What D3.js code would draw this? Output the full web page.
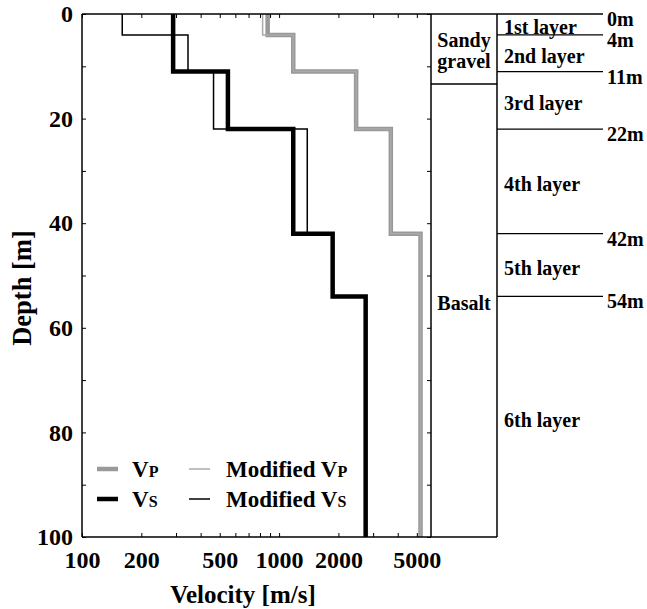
<!DOCTYPE html>
<html>
<head>
<meta charset="utf-8">
<script src="https://cdn.jsdelivr.net/npm/d3@7"></script>
<style>
  body { margin: 0; background: #fff; }
  svg text { font-family: "Liberation Serif", "Times New Roman", serif; font-weight: bold; fill: #000; }
</style>
</head>
<body>
<div id="chart"></div>
<script>
// depth boundaries of the layers [m]
const depths = [0, 4, 11, 22, 42, 54, 100];
const layerNames = ["1st layer", "2nd layer", "3rd layer", "4th layer", "5th layer", "6th layer"];
const depthMarks = [0, 4, 11, 22, 42, 54];

// velocities per layer [m/s]
const vp    = [875, 1180, 2460, 3690, 5220, 5220];
const vpMod = [825, 1180, 2460, 3690, 5220, 5220];
const vs    = [290, 290, 550, 1180, 1870, 2750];
const vsMod = [160, 345, 465, 1390, 1870, 2750];

const xLabels = [100, 200, 500, 1000, 2000, 5000];
const xMinor = [100, 200, 300, 400, 500, 600, 700, 800, 900, 1000, 2000, 3000, 4000, 5000];
const yTicks = [0, 10, 20, 30, 40, 50, 60, 70, 80, 90, 100];
const yLabels = [0, 20, 40, 60, 80, 100];

const sandyBottom = 13.4;

const width = 647, height = 609;
const plotLeft = 82, plotRight = 431, plotTop = 14, plotBottom = 537;
const panelRight = 497, lineEnd = 603;

const svg = d3.select("#chart").append("svg")
  .attr("width", width)
  .attr("height", height);

const x = d3.scaleLog().domain([100, 5900]).range([plotLeft, plotRight]);
const y = d3.scaleLinear().domain([0, 100]).range([plotTop, plotBottom]);

// step profile: each layer is a vertical segment
function steps(vals) {
  const pts = [];
  vals.forEach((v, i) => {
    pts.push([v, depths[i]]);
    pts.push([v, depths[i + 1]]);
  });
  return pts;
}

const line = d3.line()
  .x(d => x(d[0]))
  .y(d => y(d[1]));

function drawProfile(vals, color, w) {
  svg.append("path")
    .datum(steps(vals))
    .attr("d", line)
    .attr("fill", "none")
    .attr("stroke", color)
    .attr("stroke-width", w)
    .attr("stroke-linejoin", "miter");
}

drawProfile(vp, "#999", 4.5);
drawProfile(vs, "#000", 4.5);
drawProfile(vpMod, "#aaa", 1.5);
drawProfile(vsMod, "#000", 1.5);

// axes (ticks pointing inward)
const fmt = d => xLabels.includes(d) ? d : "";

svg.append("g")
  .attr("transform", `translate(0,${plotBottom})`)
  .call(d3.axisBottom(x).tickValues(xMinor).tickFormat(fmt).tickSize(-4).tickPadding(14))
  .call(g => g.select(".domain").remove())
  .call(g => g.selectAll("text").style("font-size", "24px"));

svg.append("g")
  .attr("transform", `translate(0,${plotTop})`)
  .call(d3.axisTop(x).tickValues(xMinor).tickFormat("").tickSize(-4))
  .call(g => g.select(".domain").remove());

svg.append("g")
  .attr("transform", `translate(${plotLeft},0)`)
  .call(d3.axisLeft(y).tickValues(yTicks)
    .tickFormat(d => yLabels.includes(d) ? d : "").tickSize(-4).tickPadding(9))
  .call(g => g.select(".domain").remove())
  .call(g => g.selectAll("text").style("font-size", "24px"));

svg.append("g")
  .attr("transform", `translate(${plotRight},0)`)
  .call(d3.axisRight(y).tickValues(yTicks).tickFormat("").tickSize(-4))
  .call(g => g.select(".domain").remove());

// frame lines
const frame = svg.append("g").attr("stroke", "#000").attr("stroke-width", 1.5);
frame.append("line").attr("x1", plotLeft).attr("x2", lineEnd).attr("y1", plotTop).attr("y2", plotTop);
frame.append("line").attr("x1", plotLeft).attr("x2", panelRight).attr("y1", plotBottom).attr("y2", plotBottom);
frame.append("line").attr("x1", plotLeft).attr("x2", plotLeft).attr("y1", plotTop).attr("y2", plotBottom);
frame.append("line").attr("x1", plotRight).attr("x2", plotRight).attr("y1", plotTop).attr("y2", plotBottom);
frame.append("line").attr("x1", panelRight).attr("x2", panelRight).attr("y1", plotTop).attr("y2", plotBottom);
frame.append("line").attr("x1", plotRight).attr("x2", panelRight)
  .attr("y1", y(sandyBottom)).attr("y2", y(sandyBottom));

// layer boundaries
svg.append("g").selectAll("line")
  .data(depthMarks.slice(1))
  .join("line")
  .attr("x1", panelRight).attr("x2", lineEnd)
  .attr("y1", d => y(d)).attr("y2", d => y(d))
  .attr("stroke", "#000").attr("stroke-width", 1.2);

svg.append("g").selectAll("text")
  .data(depthMarks)
  .join("text")
  .attr("x", lineEnd + 4)
  .attr("y", d => y(d) + 5)
  .attr("dominant-baseline", "central")
  .style("font-size", "20px")
  .text(d => d + "m");

svg.append("g").selectAll("text")
  .data(layerNames)
  .join("text")
  .attr("x", 504)
  .attr("y", (d, i) => y((depths[i] + depths[i + 1]) / 2) + 3)
  .attr("dominant-baseline", "central")
  .style("font-size", "20px")
  .text(d => d);

// material column
const mid = (plotRight + panelRight) / 2;
svg.append("text").attr("x", mid).attr("y", 40).attr("text-anchor", "middle")
  .attr("dominant-baseline", "central").style("font-size", "20px").text("Sandy");
svg.append("text").attr("x", mid).attr("y", 61).attr("text-anchor", "middle")
  .attr("dominant-baseline", "central").style("font-size", "20px").text("gravel");
svg.append("text").attr("x", mid).attr("y", 303).attr("text-anchor", "middle")
  .attr("dominant-baseline", "central").style("font-size", "20px").text("Basalt");

// axis titles
svg.append("text")
  .attr("x", 243).attr("y", 603)
  .attr("text-anchor", "middle")
  .style("font-size", "25px")
  .text("Velocity [m/s]");

svg.append("text")
  .attr("transform", "translate(31,288) rotate(-90)")
  .attr("text-anchor", "middle")
  .style("font-size", "26.5px")
  .text("Depth [m]");

// legend
const legendItems = [
  {name: "V", sub: "P", color: "#999", w: 4.5, x: 97, y: 469},
  {name: "V", sub: "S", color: "#000", w: 4.5, x: 97, y: 499},
  {name: "Modified V", sub: "P", color: "#aaa", w: 1.5, x: 189, y: 469},
  {name: "Modified V", sub: "S", color: "#000", w: 1.5, x: 189, y: 499}
];

const legend = svg.append("g").selectAll("g")
  .data(legendItems)
  .join("g")
  .attr("transform", d => `translate(${d.x},${d.y})`);

legend.append("line")
  .attr("x1", 0).attr("x2", 21)
  .attr("stroke", d => d.color)
  .attr("stroke-width", d => d.w);

const lt = legend.append("text")
  .attr("x", d => d.name === "V" ? 35 : 37)
  .attr("y", 8)
  .style("font-size", "23px");
lt.append("tspan").text(d => d.name);
lt.append("tspan").style("font-size", "16px").text(d => d.sub);
</script>
</body>
</html>
